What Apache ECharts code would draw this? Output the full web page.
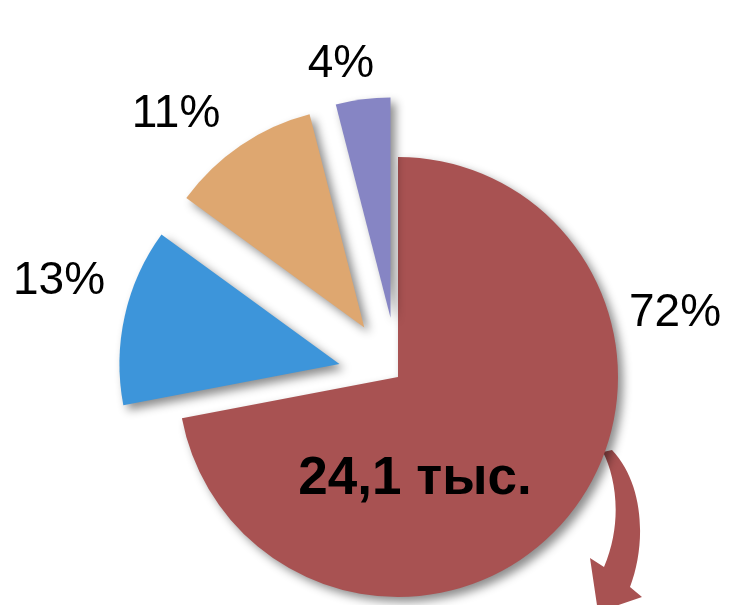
<!DOCTYPE html>
<html>
<head>
<meta charset="utf-8">
<script src="https://cdn.jsdelivr.net/npm/echarts@6/dist/echarts.min.js"></script>
<style>
html,body{margin:0;padding:0;background:#fff;}
#main{width:729px;height:605px;}
</style>
</head>
<body>
<div id="main"></div>
<script>
// Data
const categories = ['A', 'B', 'C', 'D'];
const shares = [72, 13, 11, 4];          // percent
const exploded = [false, true, true, true];
const totalLabel = '24,1 тыс.';

// Styling / layout (not data)
const colors = ['#A85252', '#3D95DA', '#DEA770', '#8685C4'];
const labelPos = [[675, 313], [59, 281], [176, 114], [341, 64]];

const arrowPath = 'M 603 452 C 616 478 623 522 604 567 L 590 558 L 598 612 L 642 597 L 630 587 C 646 545 645 485 612 450 Z';
const ArrowShape = echarts.graphic.extendPath(arrowPath, {});
echarts.graphic.registerShape('curvedArrow', ArrowShape);

const chart = echarts.init(document.getElementById('main'), null, {renderer: 'canvas'});

const pctTexts = shares.map((v, i) => ({
  type: 'text',
  z: 100,
  x: labelPos[i][0], y: labelPos[i][1],
  style: {
    text: v + '%',
    fill: '#000',
    font: '46px "Liberation Sans", Arial, sans-serif',
    align: 'center',
    verticalAlign: 'middle'
  }
}));

chart.setOption({
  backgroundColor: '#ffffff',
  animation: false,
  graphic: [
    {
      type: 'curvedArrow',
      z: 0,
      style: {fill: '#A85252'}
    },
    {
      type: 'text',
      z: 100,
      x: 415, y: 479,
      style: {
        text: totalLabel,
        fill: '#000',
        font: 'bold 53px "Liberation Sans", Arial, sans-serif',
        align: 'center',
        verticalAlign: 'middle'
      }
    }
  ].concat(pctTexts),
  series: [{
    type: 'pie',
    z: 5,
    center: [398, 377],
    radius: [0, 220],
    startAngle: 90,
    clockwise: true,
    selectedMode: 'multiple',
    selectedOffset: 60,
    avoidLabelOverlap: false,
    emphasis: {disabled: true},
    itemStyle: {
      shadowBlur: 10,
      shadowOffsetX: 5,
      shadowOffsetY: 5,
      shadowColor: 'rgba(0,0,0,0.45)'
    },
    label: {show: false},
    labelLine: {show: false},
    data: categories.map((c, i) => ({
      name: c,
      value: shares[i],
      selected: exploded[i],
      itemStyle: {color: colors[i]},
      select: {itemStyle: {color: colors[i]}}
    }))
  }]
});
</script>
</body>
</html>
